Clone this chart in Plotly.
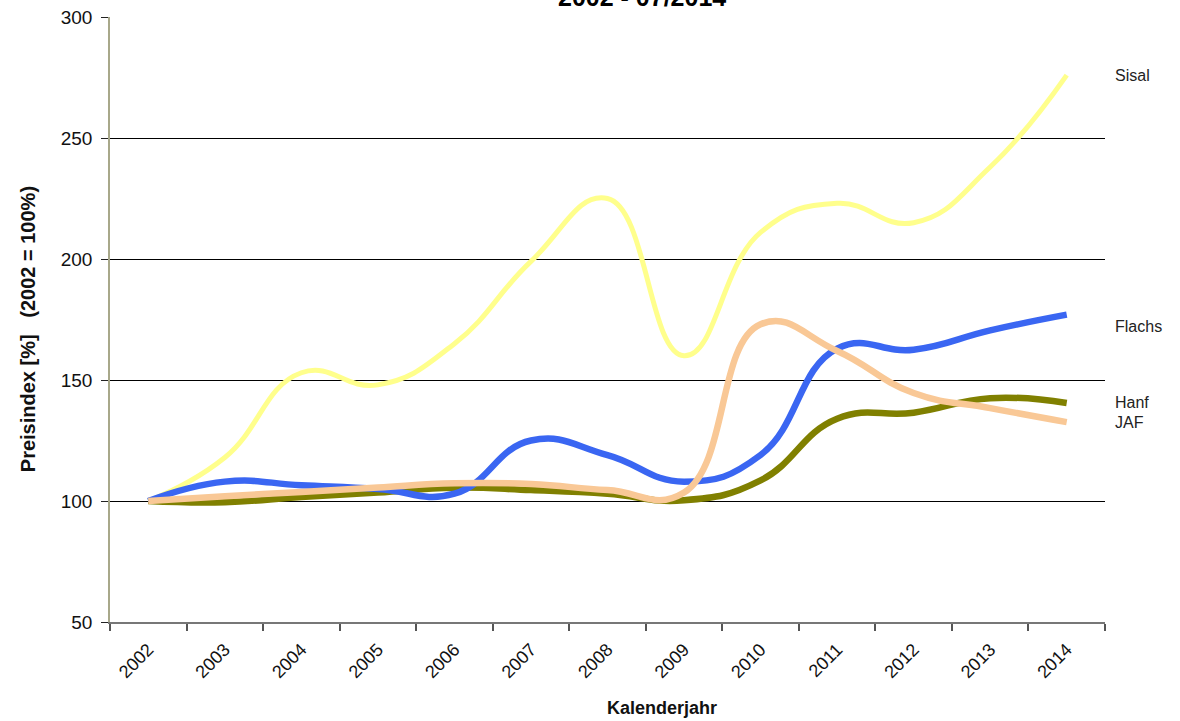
import plotly.graph_objects as go

# Price index by calendar year (2002 = 100 %)
years = ["2002", "2003", "2004", "2005", "2006", "2007", "2008",
         "2009", "2010", "2011", "2012", "2013", "2014"]
sisal = [100, 118, 153, 148, 165, 199, 225, 160, 211, 223, 215, 238, 276]
flachs = [100, 108, 106.5, 105, 103, 125, 119, 108, 119, 163, 162.5, 170.5, 177]
hanf = [100, 99.5, 101.7, 103.5, 105.5, 104.5, 103, 100.3, 108.5, 134, 136.5, 142.5, 140.5]
jaf = [100, 102, 103.7, 105.6, 107.3, 107, 104.5, 103.5, 173, 162, 144.6, 138.4, 132.6]

series_names = ["Sisal", "Hanf", "Flachs", "JAF"]
series_values = [sisal, hanf, flachs, jaf]
series_colors = ["#FFFF8C", "#808000", "#3A66F2", "#F9C896"]
series_widths = [5, 6.5, 6.5, 6.5]

# End-of-line labels on the right: (text, y value)
end_labels = [("Sisal", 276), ("Flachs", 172), ("Hanf", 140.5), ("JAF", 132.5)]

fig = go.Figure()
for name, vals, col, w in zip(series_names, series_values, series_colors, series_widths):
    fig.add_trace(go.Scatter(
        x=years, y=vals, mode="lines", name=name,
        line=dict(color=col, width=w, shape="spline", smoothing=1.3),
        hoverinfo="x+y+name",
    ))

font_family = "Liberation Sans, Arial, sans-serif"

for text, yv in end_labels:
    fig.add_annotation(
        x=1.008, xref="paper", y=yv, yref="y", text=text, showarrow=False,
        xanchor="left", yanchor="middle",
        font=dict(family=font_family, size=16, color="#222222"),
    )

# Title (second line of the heading, partly above the page edge)
fig.add_annotation(
    x=0.535, xref="paper", y=1.0, yref="paper", yshift=20,
    text="<b>2002 - 07/2014</b>", showarrow=False,
    xanchor="center", yanchor="middle",
    font=dict(family=font_family, size=25, color="#000000"),
)

# Axis titles
fig.add_annotation(
    x=0.5548, xref="paper", y=-0.142, yref="paper",
    text="<b>Kalenderjahr</b>", showarrow=False,
    xanchor="center", yanchor="middle",
    font=dict(family=font_family, size=18, color="#111111"),
)
fig.add_annotation(
    x=-0.0824, xref="paper", y=0.484, yref="paper",
    text="<b>Preisindex [%]   (2002 = 100%)</b>", showarrow=False,
    textangle=-90, xanchor="center", yanchor="middle",
    font=dict(family=font_family, size=20, color="#111111"),
)

fig.update_layout(
    width=1180, height=721,
    margin=dict(l=110, r=75, t=17, b=99),
    paper_bgcolor="white", plot_bgcolor="white",
    showlegend=False,
    font=dict(family=font_family, size=19, color="#111111"),
)

fig.update_xaxes(
    type="category", range=[-0.5, 12.5], automargin=False,
    tickangle=-45, tickson="boundaries", ticklabelstandoff=8,
    ticks="outside", ticklen=7, tickcolor="#555555", tickwidth=1.5,
    showline=True, linecolor="#777777", linewidth=2,
    showgrid=False, zeroline=False,
    tickfont=dict(size=18, color="#111111"),
)

fig.update_yaxes(
    range=[50, 300], tickvals=[50, 100, 150, 200, 250, 300], automargin=False,
    ticks="outside", ticklen=7, tickcolor="#222222", tickwidth=1,
    ticklabelstandoff=5,
    showline=True, linecolor="#A8A88A", linewidth=1.5,
    showgrid=True, gridcolor="#000000", gridwidth=1.2,
    zeroline=False,
    tickfont=dict(size=19, color="#111111"),
)

fig.write_html("out.html")
